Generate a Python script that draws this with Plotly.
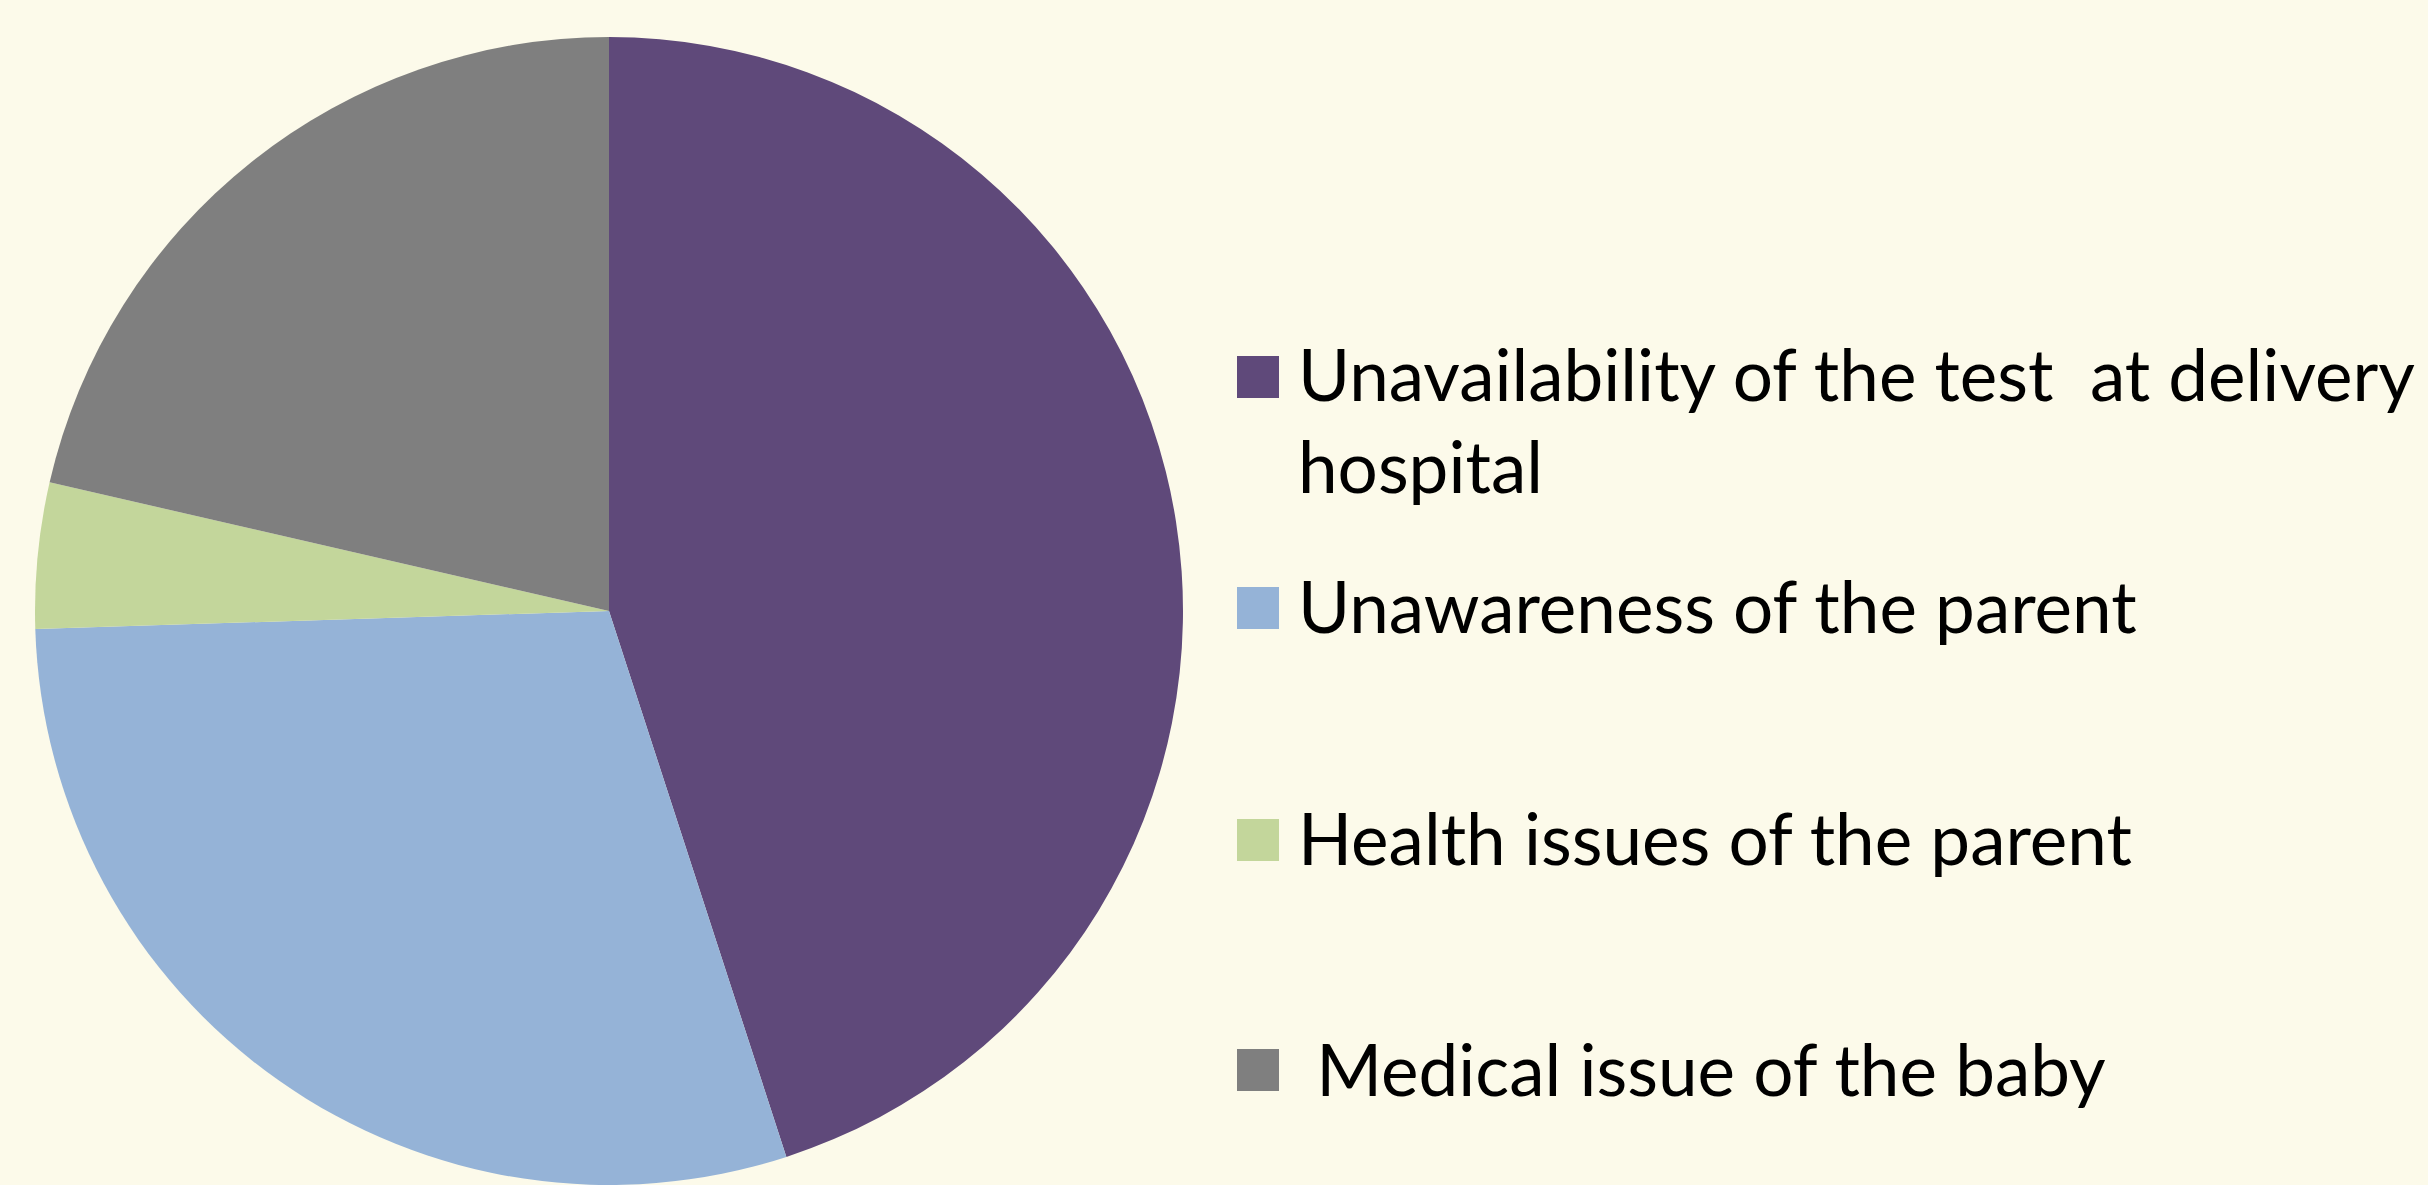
import plotly.graph_objects as go

# reasons a newborn hearing test was missed (share of responses, %)
reasons = [
    "Unavailability of the test \u00a0at delivery<br>hospital",
    "Unawareness of the parent",
    "Health issues of the parent",
    "\u00a0Medical issue of the baby",
]
shares = [45.0, 29.5, 4.1, 21.4]
colors = ["#5F497A", "#95B3D7", "#C3D69B", "#7F7F7F"]

W, H = 2428, 1185
BG = "#FCFAEA"

fig = go.Figure(go.Pie(
    labels=reasons,
    values=shares,
    sort=False,
    direction="clockwise",
    rotation=0,
    textinfo="none",
    hovertemplate="%{label}: %{value}%<extra></extra>",
    marker=dict(colors=colors, line=dict(width=0)),
    domain=dict(x=[0, 1218 / W], y=[0, 1 - 37 / H]),
    showlegend=False,
))

# hand-made legend: big swatches with wide spacing between items
swatch_y = [377, 608, 840, 1070]   # pixel centres of the swatches
text_y = [419, 606, 837, 1068]     # pixel centres of the label blocks
for lab, col, sy, ty in zip(reasons, colors, swatch_y, text_y):
    fig.add_shape(
        type="rect", xref="paper", yref="paper",
        x0=1237 / W, x1=1279 / W,
        y0=1 - (sy - 21) / H, y1=1 - (sy + 21) / H,
        fillcolor=col, line=dict(width=0),
    )
    fig.add_annotation(
        text=lab, xref="paper", yref="paper",
        x=1296 / W, y=1 - ty / H,
        xanchor="left", yanchor="middle", align="left",
        showarrow=False,
        font=dict(family="Lato", size=71, color="#000000"),
    )

fig.update_layout(
    width=W, height=H,
    margin=dict(l=0, r=0, t=0, b=0),
    paper_bgcolor=BG,
    plot_bgcolor=BG,
)

# drop the browser's default body margin so the figure sits flush
fig.write_html(
    "out.html",
    config={"displayModeBar": False},
    post_script="document.body.style.margin='0';",
)
